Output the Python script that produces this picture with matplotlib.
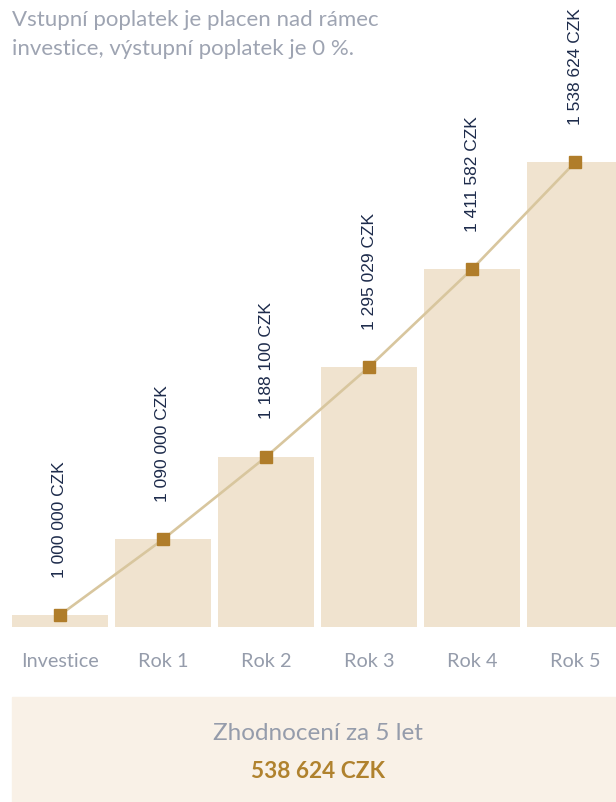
import matplotlib
matplotlib.use("Agg")
import matplotlib.pyplot as plt
from matplotlib.patches import Rectangle

categories = ["Investice", "Rok 1", "Rok 2", "Rok 3", "Rok 4", "Rok 5"]
values = [1000000, 1090000, 1188100, 1295029, 1411582, 1538624]
value_labels = ["1 000 000 CZK", "1 090 000 CZK", "1 188 100 CZK",
                "1 295 029 CZK", "1 411 582 CZK", "1 538 624 CZK"]
note_lines = ["Vstupní poplatek je placen nad rámec",
              "investice, výstupní poplatek je 0 %."]
summary_title = "Zhodnocení za 5 let"
summary_value = "538 624 CZK"

W, H = 616, 802
fig = plt.figure(figsize=(W / 100, H / 100), dpi=100)
fig.patch.set_facecolor("white")

ax = fig.add_axes([0, (H - 627) / H, 1, 627 / H])
ax.set_facecolor("none")
x = list(range(len(categories)))
ax.bar(x, values, width=0.935, color="#f0e3cf", zorder=1)
ax.plot(x, values, color="#d8c69e", lw=1.9, zorder=2)
ax.plot(x, values, ls="none", marker="s", ms=8, color="#b07d2a", zorder=3)
for xi, v, lab in zip(x, values, value_labels):
    ax.annotate(lab, (xi, v), xytext=(0, 27), textcoords="offset points",
                rotation=90, ha="center", va="bottom", fontsize=12.5,
                family="Liberation Sans", color="#1d2b4b")
ax.set_xlim(-0.5825, 5.398)
ax.set_ylim(1000000 - 12 * 1190, 1000000 + 615 * 1190)
for s in ax.spines.values():
    s.set_visible(False)
ax.set_yticks([])
ax.set_xticks(x)
ax.set_xticklabels(categories, family="Lato", fontsize=14.3, color="#959cab")
ax.tick_params(axis="x", length=0, pad=19)

# note text
fig.text(12 / W, 1 - 20 / H, note_lines[0], family="Lato",
         fontsize=16, color="#9ea4b2", va="center", ha="left")
fig.text(12 / W, 1 - 49 / H, note_lines[1], family="Lato",
         fontsize=16, color="#9ea4b2", va="center", ha="left")

# summary box
fig.patches.append(Rectangle((12 / W, 0), 1 - 12 / W, (H - 697) / H,
                             transform=fig.transFigure, color="#f9f1e7",
                             zorder=0))
fig.text(318 / W, 1 - 733 / H, summary_title, family="Lato",
         fontsize=17.5, color="#959cab", ha="center", va="center")
fig.text(318 / W, 1 - 772 / H, summary_value, family="Lato", fontsize=16.3,
         fontweight="bold", color="#b0822e", ha="center", va="center")

fig.savefig("out.png", dpi=100)
